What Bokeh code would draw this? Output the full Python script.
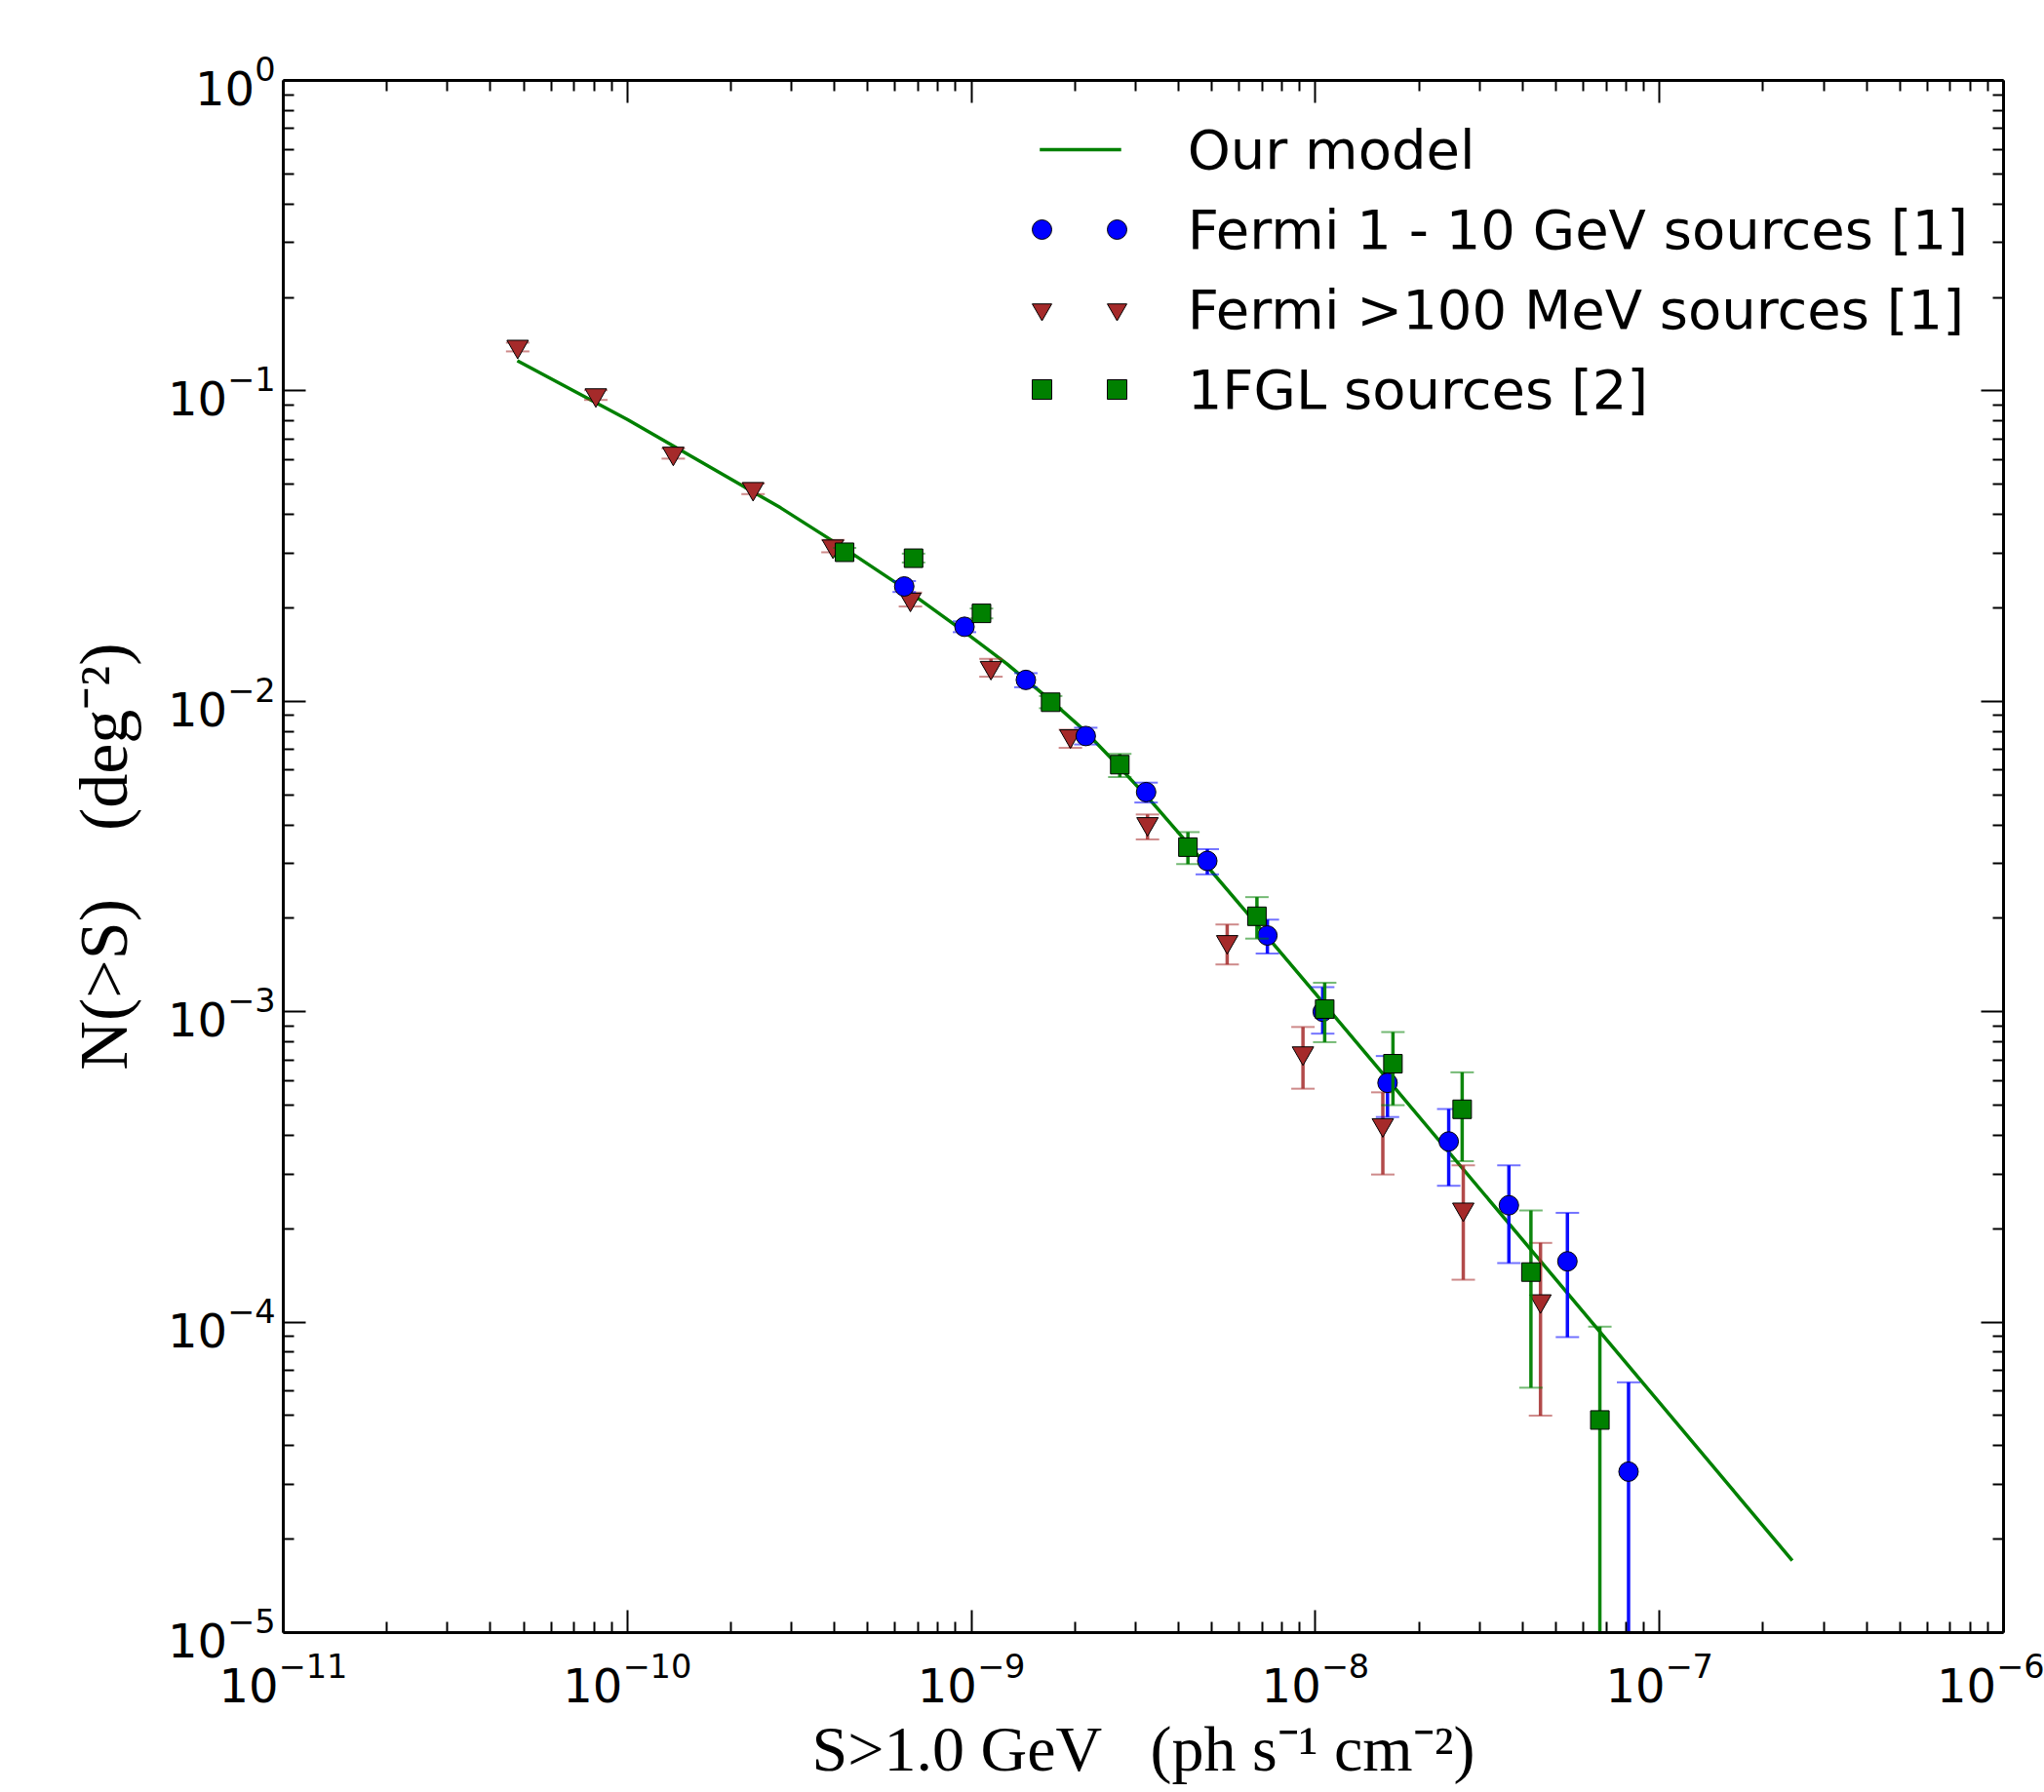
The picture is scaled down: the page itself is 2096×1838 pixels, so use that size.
import numpy as np
from bokeh.plotting import figure
from bokeh.models import (LogAxis, FixedTicker, Legend, LegendItem, Range1d)
from bokeh.embed import file_html
from bokeh.resources import INLINE
from bokeh.core.properties import value

# ---------------- data ----------------
model_S = [4.79e-11, 1.0e-10, 2.79e-10, 4.28e-10, 6.38e-10, 9.51e-10, 1.268e-9,
           1.69e-9, 2.128e-9, 2.683e-9, 3.38e-9, 4.256e-9, 7.19e-9, 1.074e-8,
           1.406e-8, 2.432e-7]
model_N = [0.1250, 0.0809, 0.0420, 0.03105, 0.02312, 0.01679, 0.01321,
           0.01012, 0.00807, 0.00617, 0.004677, 0.003483, 0.001762, 0.001042,
           7.31e-4, 1.706e-5]

blue_S = [6.38e-10, 9.55e-10, 1.44e-9, 2.15e-9, 3.22e-9, 4.85e-9, 7.25e-9,
          1.05e-8, 1.62e-8, 2.44e-8, 3.65e-8, 5.4e-8, 8.13e-8]
blue_N = [0.02344, 0.01738, 0.01172, 0.00773, 0.0051, 0.00306, 0.00176,
          1.0e-3, 5.9e-4, 3.82e-4, 2.38e-4, 1.57e-4, 3.3e-5]
blue_lo = [0.0225, 0.0167, 0.0111, 0.00726, 0.00472, 0.00277, 0.00154,
           8.5e-4, 4.58e-4, 2.75e-4, 1.55e-4, 8.95e-5, 1e-7]
blue_hi = [0.0244, 0.0181, 0.01232, 0.00822, 0.00547, 0.00334, 0.00198,
           1.2e-3, 7.2e-4, 4.86e-4, 3.2e-4, 2.25e-4, 6.4e-5]

red_S = [4.8e-11, 8.1e-11, 1.36e-10, 2.32e-10, 3.96e-10, 6.65e-10, 1.14e-9,
         1.94e-9, 3.25e-9, 5.54e-9, 9.2e-9, 1.57e-8, 2.69e-8, 4.51e-8]
red_N = [0.139, 0.097, 0.0629, 0.0484, 0.0316, 0.0213, 0.01284,
         0.00773, 0.00403, 0.00168, 7.36e-4, 4.32e-4, 2.31e-4, 1.17e-4]
red_lo = [0.134, 0.0935, 0.0605, 0.0465, 0.0302, 0.0202, 0.0120,
          0.00708, 0.00359, 0.00142, 5.65e-4, 2.99e-4, 1.37e-4, 5.0e-5]
red_hi = [0.143, 0.1005, 0.0652, 0.0503, 0.0331, 0.0224, 0.0137,
          0.0081, 0.00432, 0.00191, 8.93e-4, 5.5e-4, 3.2e-4, 1.8e-4]

green_S = [4.28e-10, 6.79e-10, 1.07e-9, 1.70e-9, 2.70e-9, 4.26e-9, 6.76e-9,
           1.064e-8, 1.68e-8, 2.67e-8, 4.23e-8, 6.71e-8]
green_N = [0.0302, 0.0289, 0.0192, 0.00993, 0.00625, 0.00339, 0.00203,
           1.02e-3, 6.8e-4, 4.85e-4, 1.45e-4, 4.84e-5]
green_lo = [0.0292, 0.0280, 0.0185, 0.0095, 0.0057, 0.00299, 0.00172,
            7.98e-4, 5.0e-4, 3.3e-4, 6.15e-5, 1e-7]
green_hi = [0.0312, 0.0299, 0.0199, 0.0104, 0.00677, 0.00379, 0.00234,
            1.24e-3, 8.6e-4, 6.38e-4, 2.29e-4, 9.67e-5]

x_major = [10.0 ** k for k in range(-11, -5)]
x_minor = [m * 10.0 ** k for k in range(-11, -6) for m in range(2, 10)]
y_major = [10.0 ** k for k in range(-5, 1)]
y_minor = [m * 10.0 ** k for k in range(-5, 0) for m in range(2, 10)]

legend_labels = ["Our model", "Fermi 1 - 10 GeV sources [1]",
                 "Fermi >100 MeV sources [1]", "1FGL sources [2]"]
x_title = "S>1.0 GeV\u00a0\u00a0\u00a0(ph s\u207b\u00b9 cm\u207b\u00b2)"
y_title = "N(>S)\u00a0\u00a0\u00a0\u00a0(deg\u207b\u00b2)"

# ---------------- figure ----------------
W, H = 2096, 1836
p = figure(width=W, height=H, x_axis_type="log", y_axis_type="log",
           x_range=Range1d(1e-11, 1e-6), y_range=Range1d(1e-5, 1.0),
           output_backend="svg", toolbar_location=None,
           min_border_left=290, min_border_right=42,
           min_border_top=82, min_border_bottom=162)
p.outline_line_color = None
p.xgrid.visible = False
p.ygrid.visible = False
p.background_fill_color = "white"
p.border_fill_color = "white"

p.add_layout(LogAxis(), "right")
p.add_layout(LogAxis(), "above")


def style_axis(ax, major, minor, show):
    ax.ticker = FixedTicker(ticks=major, minor_ticks=minor)
    ax.axis_line_width = 3
    ax.axis_line_color = "black"
    ax.major_tick_in = 23
    ax.major_tick_out = 0
    ax.minor_tick_in = 11
    ax.minor_tick_out = 0
    ax.major_tick_line_width = 2
    ax.minor_tick_line_width = 2
    ax.major_tick_line_color = "black"
    ax.minor_tick_line_color = "black"
    if show:
        ax.major_label_text_font = "DejaVu Sans"
        ax.major_label_text_font_size = "48px"
        ax.major_label_text_color = "black"
    else:
        ax.major_label_text_font_size = "1px"
        ax.major_label_text_color = None
        ax.major_label_standoff = 0


for ax in p.below:
    style_axis(ax, x_major, x_minor, True)
    ax.major_label_standoff = 20
    ax.axis_label = x_title
    ax.axis_label_text_font = "Liberation Serif"
    ax.axis_label_text_font_size = "66px"
    ax.axis_label_text_font_style = "normal"
    ax.axis_label_text_color = "black"
    ax.axis_label_standoff = 8
for ax in p.above:
    style_axis(ax, x_major, x_minor, False)
for ax in p.left:
    style_axis(ax, y_major, y_minor, True)
    ax.major_label_standoff = 8
    ax.axis_label = y_title
    ax.axis_label_text_font = "Liberation Serif"
    ax.axis_label_text_font_size = "70px"
    ax.axis_label_text_font_style = "normal"
    ax.axis_label_text_color = "black"
    ax.axis_label_standoff = 24
for ax in p.right:
    style_axis(ax, y_major, y_minor, False)

# ---------------- glyphs ----------------
r_model = p.line(model_S, model_N, line_color="green", line_width=3.5)


def errbars(S, lo, hi, color, alpha):
    p.segment(x0=S, y0=lo, x1=S, y1=hi, line_color=color, line_width=3.5,
              line_alpha=alpha)
    p.scatter(list(S) + list(S), list(lo) + list(hi), marker="dash", size=24,
              line_color=color, line_width=2, line_alpha=0.55)


RED = "#A52A2A"
errbars(red_S, red_lo, red_hi, RED, 0.85)
r_red = p.scatter(red_S, red_N, marker="inverted_triangle", size=22,
                  fill_color=RED, line_color="black", line_width=1)

errbars(blue_S, blue_lo, blue_hi, "blue", 0.95)
r_blue = p.scatter(blue_S, blue_N, marker="circle", size=20,
                   fill_color="blue", line_color="black", line_width=1)

errbars(green_S, green_lo, green_hi, "green", 0.95)
r_green = p.scatter(green_S, green_N, marker="square", size=19,
                    fill_color="green", line_color="black", line_width=1)


# empty placeholder renderers (draw nothing) used to keep legend rows aligned
def blank():
    return p.scatter(x=[], y=[], marker="circle", size=1,
                     fill_alpha=0, line_alpha=0)


b1, b2, b3, b4 = blank(), blank(), blank(), blank()

# ---------------- legend (labels + line sample) ----------------
legend = Legend(items=[
    LegendItem(label=value(legend_labels[0]), renderers=[r_model]),
    LegendItem(label=value(legend_labels[1]), renderers=[b1]),
    LegendItem(label=value(legend_labels[2]), renderers=[b2]),
    LegendItem(label=value(legend_labels[3]), renderers=[b3]),
], location="top_right")
legend.label_text_font = "DejaVu Sans"
legend.label_text_font_size = "56px"
legend.label_text_color = "black"
legend.glyph_width = 84
legend.glyph_height = 70
legend.label_height = 70
legend.label_standoff = 68
legend.spacing = 12
legend.padding = 36
legend.margin = 0
legend.border_line_color = "white"
legend.border_line_alpha = 0
legend.background_fill_alpha = 0
p.add_layout(legend)

# two marker columns (numpoints = 2, as in the original legend)
for vx in (753, 830):
    mk = Legend(items=[
        LegendItem(label=value(""), renderers=[b4]),
        LegendItem(label=value(""), renderers=[r_blue]),
        LegendItem(label=value(""), renderers=[r_red]),
        LegendItem(label=value(""), renderers=[r_green]),
    ], location=(vx, 1240))
    mk.label_text_font_size = "56px"
    mk.glyph_width = 50
    mk.glyph_height = 70
    mk.label_height = 70
    mk.label_standoff = 0
    mk.spacing = 12
    mk.padding = 0
    mk.margin = 0
    mk.border_line_color = None
    mk.background_fill_alpha = 0
    p.add_layout(mk)

open("out.html", "w").write(file_html(p, INLINE))
